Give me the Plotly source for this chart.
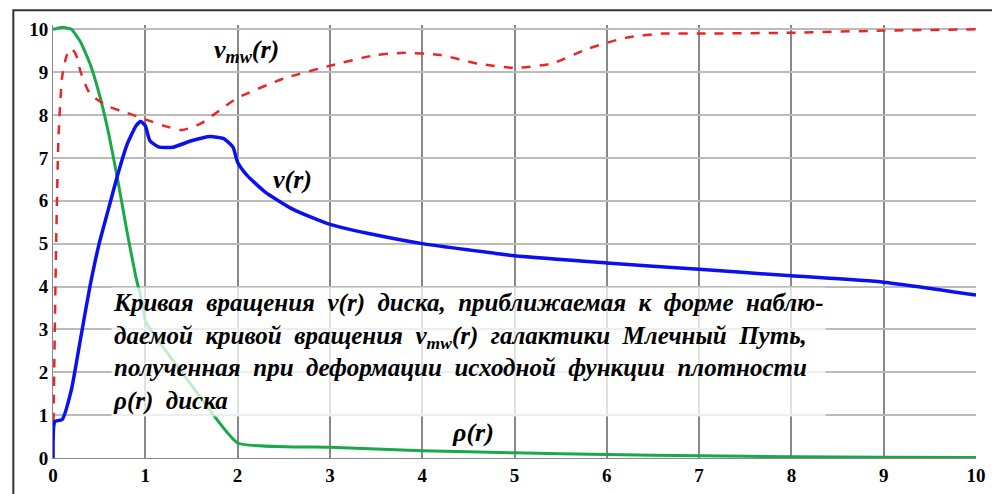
import plotly.graph_objects as go

r_mw = [0, 0.03, 0.06, 0.1, 0.15, 0.2, 0.25, 0.3, 0.4, 0.6, 0.8, 1.0, 1.2, 1.4, 1.6, 1.8, 2.0, 2.5, 3.0, 3.5, 3.8, 4.2, 4.6, 5.0, 5.4, 5.8, 6.2, 6.6, 7.0, 8.0, 9.0, 10.0]
v_mw = [0, 4.5, 7.5, 8.9, 9.4, 9.55, 9.4, 9.0, 8.5, 8.2, 8.05, 7.9, 7.75, 7.65, 7.8, 8.1, 8.4, 8.85, 9.15, 9.4, 9.45, 9.4, 9.2, 9.1, 9.2, 9.55, 9.8, 9.9, 9.9, 9.92, 9.97, 10.0]

r_v = [0, 0.02, 0.1, 0.2, 0.3, 0.4, 0.5, 0.6, 0.7, 0.8, 0.9, 0.95, 1.0, 1.05, 1.15, 1.3, 1.5, 1.7, 1.85, 1.95, 2.0, 2.1, 2.3, 2.6, 3.0, 3.5, 4.0, 5.0, 6.0, 7.0, 8.0, 9.0, 10.0]
v_v = [0, 0.85, 0.9, 1.6, 2.8, 4.0, 5.0, 5.8, 6.6, 7.3, 7.75, 7.85, 7.75, 7.4, 7.25, 7.25, 7.4, 7.5, 7.45, 7.25, 6.9, 6.6, 6.2, 5.8, 5.45, 5.2, 5.0, 4.72, 4.55, 4.4, 4.25, 4.1, 3.8]

r_rho = [0, 0.1, 0.2, 0.3, 0.4, 0.5, 0.6, 0.7, 0.8, 0.9, 0.97, 1.0, 1.5, 2.0, 3.0, 4.0, 5.0, 6.0, 7.0, 8.0, 9.0, 10.0]
v_rho = [10, 10.05, 10.0, 9.7, 9.2, 8.5, 7.6, 6.5, 5.3, 4.2, 3.6, 3.2, 1.7, 0.35, 0.25, 0.17, 0.12, 0.08, 0.05, 0.03, 0.02, 0.01]

x_ticks = list(range(11))
y_ticks = list(range(11))

SERIF = "Liberation Serif, DejaVu Serif, Times New Roman, serif"

fig = go.Figure()
fig.add_trace(go.Scatter(x=r_rho, y=v_rho, mode="lines", line=dict(color="#1aa84a", width=3, shape="spline", smoothing=0.4)))
fig.add_trace(go.Scatter(x=r_mw, y=v_mw, mode="lines", line=dict(color="#e8262a", width=2.5, dash="dash", shape="spline", smoothing=0.6)))
fig.add_trace(go.Scatter(x=r_v, y=v_v, mode="lines", line=dict(color="#0a10f0", width=3.5, shape="spline", smoothing=0.5)))

lab = dict(family=SERIF, size=26, color="black")
fig.add_annotation(x=2.1, y=9.5, text="<b><i>v<sub>mw</sub>(r)</i></b>", showarrow=False, font=lab, xanchor="center")
fig.add_annotation(x=2.6, y=6.5, text="<b><i>v(r)</i></b>", showarrow=False, font=lab, xanchor="center")
fig.add_annotation(x=4.55, y=0.6, text="<b><i>ρ(r)</i></b>", showarrow=False, font=lab, xanchor="center")
fig.add_annotation(x=0.63, y=4.0, xref="x", yref="y", xanchor="left", yanchor="top", align="left",
    text="<b><i>Кривая  вращения  v(r)  диска,  приближаемая  к  форме  наблю-<br>"
         "даемой  кривой  вращения  v<sub>mw</sub>(r)  галактики  Млечный  Путь,<br>"
         "полученная  при  деформации  исходной  функции  плотности<br>"
         "ρ(r)  диска</i></b>",
    showarrow=False, font=dict(family=SERIF, size=25, color="black"),
    bgcolor="rgba(255,255,255,0.75)", borderpad=1)

fig.update_layout(width=1000, height=494, paper_bgcolor="white", plot_bgcolor="white",
    margin=dict(l=45, r=32, t=17, b=44), showlegend=False,
    shapes=[dict(type="rect", xref="paper", yref="paper", x0=-0.043, x1=1.031, y0=-0.098, y1=1.034,
                 line=dict(color="#333", width=2))])
fig.update_xaxes(range=[0, 10], tickvals=x_ticks, ticktext=[f"<b>{t}</b>" for t in x_ticks],
    showgrid=True, gridcolor="#888", gridwidth=1.5, zeroline=False,
    tickfont=dict(family=SERIF, size=19, color="black"), ticks="", showline=True, linecolor="#888")
fig.update_yaxes(range=[0, 10.1], tickvals=y_ticks, ticktext=[f"<b>{t}</b>" for t in y_ticks],
    showgrid=True, gridcolor="#bbb", gridwidth=1.5, zeroline=False,
    tickfont=dict(family=SERIF, size=19, color="black"), ticks="", showline=True, linecolor="#888")
fig.write_html("out.html")
